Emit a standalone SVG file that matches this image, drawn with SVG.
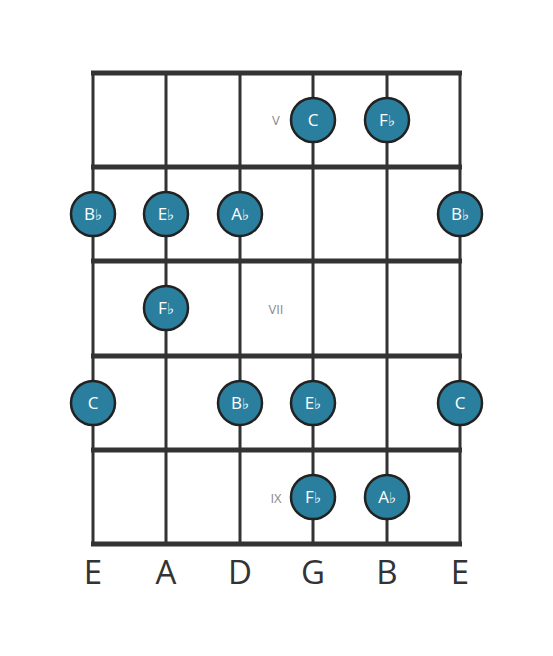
<svg xmlns="http://www.w3.org/2000/svg" width="553" height="656" viewBox="0 0 553 656">
<style>
.fret{stroke:#333;stroke-width:5;}
.str{stroke:#333;stroke-width:3;}
.dot{fill:#2a7f9e;stroke:#222;stroke-width:2.5;}
.nt{fill:#fff;font-family:"Open Sans",sans-serif;font-size:17px;text-anchor:middle;}
.fl{font-size:15px;}
.pos{fill:#888;font-family:"Open Sans",sans-serif;font-size:13px;text-anchor:middle;}
.lbl{fill:#333;font-family:"Open Sans",sans-serif;font-size:33px;text-anchor:middle;}
</style>
<rect width="553" height="656" fill="#fff"/>
<g id="connectors">
<line class="str" x1="93" y1="72" x2="93" y2="545"/>
<line class="str" x1="166" y1="72" x2="166" y2="545"/>
<line class="str" x1="240" y1="72" x2="240" y2="545"/>
<line class="str" x1="313" y1="72" x2="313" y2="545"/>
<line class="str" x1="387" y1="72" x2="387" y2="545"/>
<line class="str" x1="460" y1="72" x2="460" y2="545"/>
<line class="fret" x1="91" y1="73" x2="462" y2="73"/>
<line class="fret" x1="91" y1="167" x2="462" y2="167"/>
<line class="fret" x1="91" y1="261" x2="462" y2="261"/>
<line class="fret" x1="91" y1="356" x2="462" y2="356"/>
<line class="fret" x1="91" y1="450" x2="462" y2="450"/>
<line class="fret" x1="91" y1="544" x2="462" y2="544"/>
</g>
<g id="positions">
<text class="pos" x="276" y="125">V</text>
<text class="pos" x="276" y="314">VII</text>
<text class="pos" x="276" y="503">IX</text>
</g>
<g id="n1"><circle class="dot" cx="313" cy="120" r="22"/><text class="nt" x="313" y="126">C</text></g>
<g id="n2"><circle class="dot" cx="387" cy="120" r="22"/><text class="nt" x="387" y="126">F<tspan class="fl">♭</tspan></text></g>
<g id="n3"><circle class="dot" cx="93" cy="214" r="22"/><text class="nt" x="93" y="220">B<tspan class="fl">♭</tspan></text></g>
<g id="n4"><circle class="dot" cx="166" cy="214" r="22"/><text class="nt" x="166" y="220">E<tspan class="fl">♭</tspan></text></g>
<g id="n5"><circle class="dot" cx="240" cy="214" r="22"/><text class="nt" x="240" y="220">A<tspan class="fl">♭</tspan></text></g>
<g id="n6"><circle class="dot" cx="460" cy="214" r="22"/><text class="nt" x="460" y="220">B<tspan class="fl">♭</tspan></text></g>
<g id="n7"><circle class="dot" cx="166" cy="308" r="22"/><text class="nt" x="166" y="314">F<tspan class="fl">♭</tspan></text></g>
<g id="n8"><circle class="dot" cx="93" cy="403" r="22"/><text class="nt" x="93" y="409">C</text></g>
<g id="n9"><circle class="dot" cx="240" cy="403" r="22"/><text class="nt" x="240" y="409">B<tspan class="fl">♭</tspan></text></g>
<g id="n10"><circle class="dot" cx="313" cy="403" r="22"/><text class="nt" x="313" y="409">E<tspan class="fl">♭</tspan></text></g>
<g id="n11"><circle class="dot" cx="460" cy="403" r="22"/><text class="nt" x="460" y="409">C</text></g>
<g id="n12"><circle class="dot" cx="313" cy="497" r="22"/><text class="nt" x="313" y="503">F<tspan class="fl">♭</tspan></text></g>
<g id="n13"><circle class="dot" cx="387" cy="497" r="22"/><text class="nt" x="387" y="503">A<tspan class="fl">♭</tspan></text></g>
<g id="labels">
<text class="lbl" x="93" y="584">E</text>
<text class="lbl" x="166" y="584">A</text>
<text class="lbl" x="240" y="584">D</text>
<text class="lbl" x="313" y="584">G</text>
<text class="lbl" x="387" y="584">B</text>
<text class="lbl" x="460" y="584">E</text>
</g>
</svg>
